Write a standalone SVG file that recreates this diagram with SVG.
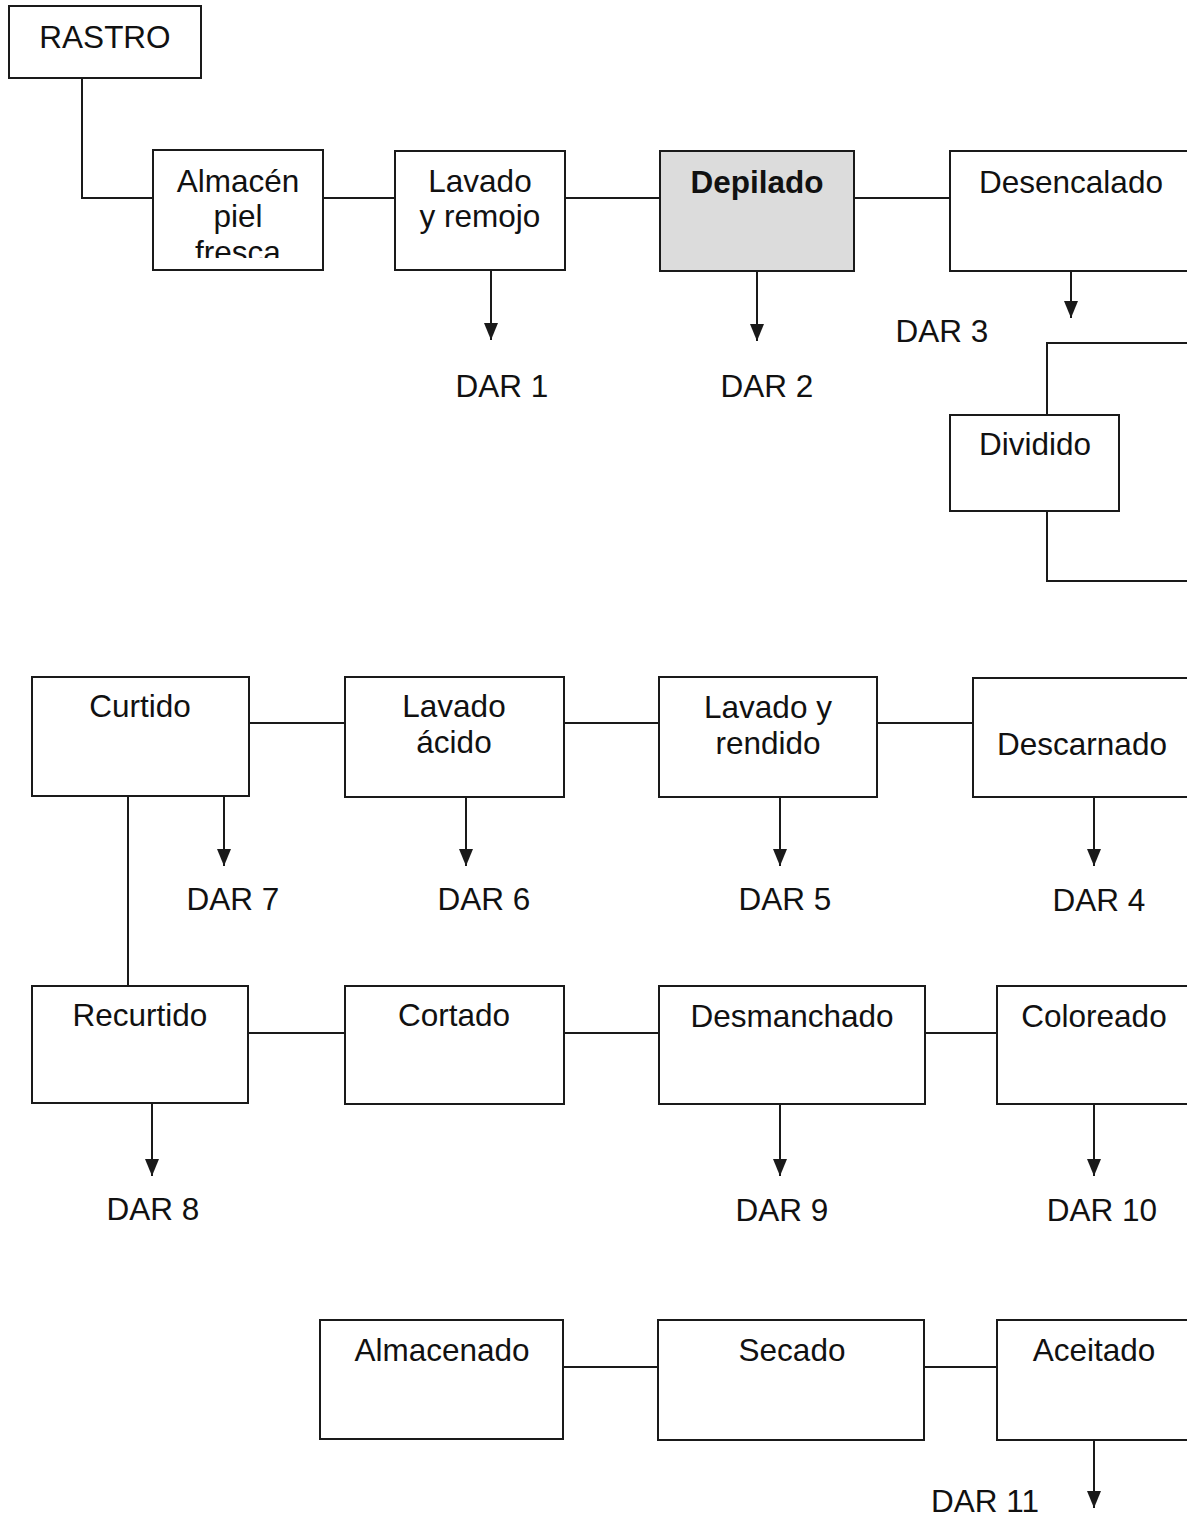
<svg xmlns="http://www.w3.org/2000/svg" width="1187" height="1517" viewBox="0 0 1187 1517">
<style>
.b{fill:#fff;stroke:#1a1a1a;stroke-width:2}
.g{fill:#dcdcdc;stroke:#1a1a1a;stroke-width:2}
.c{fill:none;stroke:#1a1a1a;stroke-width:2}
.a{fill:none;stroke:#1a1a1a;stroke-width:2;marker-end:url(#ah)}
text{font-family:"Liberation Sans",Arial,sans-serif;font-size:31.5px;fill:#111;text-anchor:middle}
.bold{font-weight:bold}
</style>
<defs>
<marker id="ah" viewBox="0 0 17 14" refX="17" refY="7" markerWidth="17" markerHeight="14" markerUnits="userSpaceOnUse" orient="auto">
<path d="M0,0 L17,7 L0,14 z" fill="#1a1a1a"/>
</marker>
<clipPath id="clipAlm"><rect x="153" y="150" width="170" height="108"/></clipPath>
</defs>
<rect width="1187" height="1517" fill="#fff"/>

<g id="connectors">
<path class="c" d="M82,78 V198 H153"/>
<path class="c" d="M323,198 H395"/>
<path class="c" d="M565,198 H660"/>
<path class="c" d="M854,198 H950"/>
<path class="a" d="M491,270 V340"/>
<path class="a" d="M757,271 V341"/>
<path class="a" d="M1071,271 V318"/>
<path class="c" d="M1190,343 H1047 V415"/>
<path class="c" d="M1047,511 V581 H1190"/>
<path class="c" d="M249,723 H345"/>
<path class="c" d="M564,723 H659"/>
<path class="c" d="M877,723 H973"/>
<path class="a" d="M224,796 V866"/>
<path class="a" d="M466,797 V866"/>
<path class="a" d="M780,797 V866"/>
<path class="a" d="M1094,797 V866"/>
<path class="c" d="M128,796 V986"/>
<path class="c" d="M248,1033 H345"/>
<path class="c" d="M564,1033 H659"/>
<path class="c" d="M925,1033 H997"/>
<path class="a" d="M152,1103 V1176"/>
<path class="a" d="M780,1104 V1176"/>
<path class="a" d="M1094,1104 V1176"/>
<path class="c" d="M563,1367 H658"/>
<path class="c" d="M924,1367 H997"/>
<path class="a" d="M1094,1440 V1508"/>
</g>

<g id="rastro"><rect class="b" x="9" y="6" width="192" height="72"/><text x="105" y="48">RASTRO</text></g>
<g id="almacen-piel"><rect class="b" x="153" y="150" width="170" height="120"/>
<g clip-path="url(#clipAlm)"><text x="238" y="192">Almacén</text><text x="238" y="227">piel</text><text x="238" y="263">fresca</text></g></g>
<g id="lavado-remojo"><rect class="b" x="395" y="151" width="170" height="119"/><text x="480" y="192">Lavado</text><text x="480" y="227">y remojo</text></g>
<g id="depilado"><rect class="g" x="660" y="151" width="194" height="120"/><text class="bold" x="757" y="193">Depilado</text></g>
<g id="desencalado"><rect class="b" x="950" y="151" width="250" height="120"/><text x="1071" y="193">Desencalado</text></g>
<g id="dar1"><text x="502" y="397">DAR 1</text></g>
<g id="dar2"><text x="767" y="397">DAR 2</text></g>
<g id="dar3"><text x="942" y="342">DAR 3</text></g>
<g id="dividido"><rect class="b" x="950" y="415" width="169" height="96"/><text x="1035" y="455">Dividido</text></g>

<g id="curtido"><rect class="b" x="32" y="677" width="217" height="119"/><text x="140" y="717">Curtido</text></g>
<g id="lavado-acido"><rect class="b" x="345" y="677" width="219" height="120"/><text x="454" y="717">Lavado</text><text x="454" y="753">ácido</text></g>
<g id="lavado-rendido"><rect class="b" x="659" y="677" width="218" height="120"/><text x="768" y="718">Lavado y</text><text x="768" y="754">rendido</text></g>
<g id="descarnado"><rect class="b" x="973" y="678" width="227" height="119"/><text x="1082" y="755">Descarnado</text></g>
<g id="dar7"><text x="233" y="910">DAR 7</text></g>
<g id="dar6"><text x="484" y="910">DAR 6</text></g>
<g id="dar5"><text x="785" y="910">DAR 5</text></g>
<g id="dar4"><text x="1099" y="911">DAR 4</text></g>

<g id="recurtido"><rect class="b" x="32" y="986" width="216" height="117"/><text x="140" y="1026">Recurtido</text></g>
<g id="cortado"><rect class="b" x="345" y="986" width="219" height="118"/><text x="454" y="1026">Cortado</text></g>
<g id="desmanchado"><rect class="b" x="659" y="986" width="266" height="118"/><text x="792" y="1027">Desmanchado</text></g>
<g id="coloreado"><rect class="b" x="997" y="986" width="203" height="118"/><text x="1094" y="1027">Coloreado</text></g>
<g id="dar8"><text x="153" y="1220">DAR 8</text></g>
<g id="dar9"><text x="782" y="1221">DAR 9</text></g>
<g id="dar10"><text x="1102" y="1221">DAR 10</text></g>

<g id="almacenado"><rect class="b" x="320" y="1320" width="243" height="119"/><text x="442" y="1361">Almacenado</text></g>
<g id="secado"><rect class="b" x="658" y="1320" width="266" height="120"/><text x="792" y="1361">Secado</text></g>
<g id="aceitado"><rect class="b" x="997" y="1320" width="203" height="120"/><text x="1094" y="1361">Aceitado</text></g>
<g id="dar11"><text x="985" y="1512">DAR 11</text></g>
</svg>
